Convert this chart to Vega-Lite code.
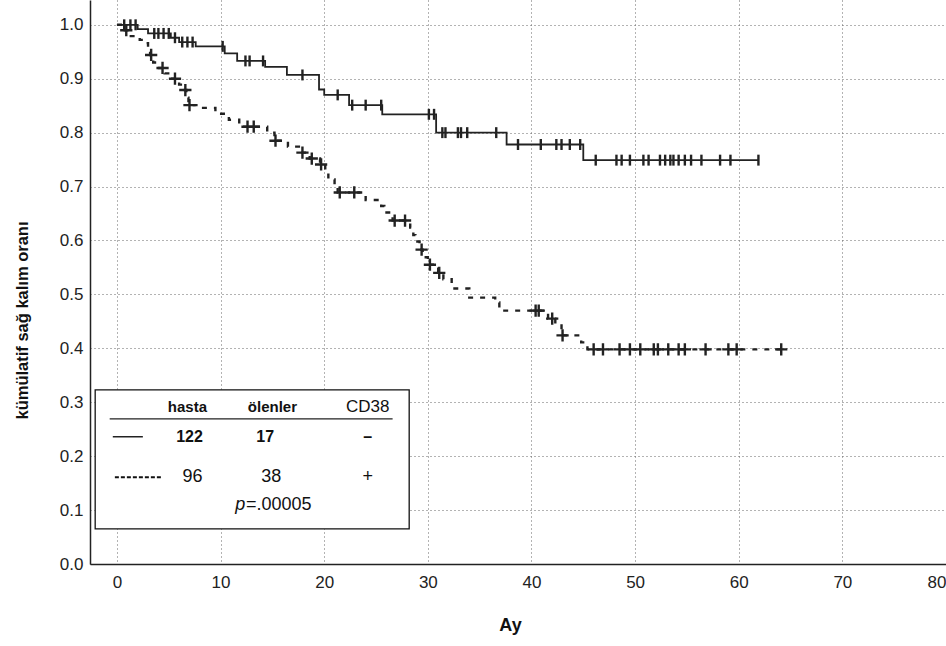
{
  "$schema": "https://vega.github.io/schema/vega-lite/v6.json",
  "width": 856,
  "height": 564,
  "autosize": {"type": "none"},
  "padding": {"left": 90, "top": 0, "right": 0, "bottom": 82},
  "background": "white",
  "config": {"view": {"stroke": null}, "font": "Liberation Sans"},
  "datasets": {
    "neg": [
      {"t": 0, "s": 1.0}, {"t": 2.0, "s": 0.992}, {"t": 3.0, "s": 0.984}, {"t": 5.2, "s": 0.976},
      {"t": 6.0, "s": 0.968}, {"t": 7.6, "s": 0.96}, {"t": 10.4, "s": 0.947}, {"t": 11.6, "s": 0.933},
      {"t": 14.3, "s": 0.922}, {"t": 16.4, "s": 0.907}, {"t": 19.5, "s": 0.88}, {"t": 20.0, "s": 0.87},
      {"t": 22.4, "s": 0.851}, {"t": 25.6, "s": 0.834}, {"t": 30.8, "s": 0.8}, {"t": 37.6, "s": 0.778},
      {"t": 45.0, "s": 0.749}, {"t": 61.9, "s": 0.749}
    ],
    "pos": [
      {"t": 0, "s": 1.0}, {"t": 0.6, "s": 0.99}, {"t": 1.0, "s": 0.979}, {"t": 2.2, "s": 0.972},
      {"t": 2.8, "s": 0.966}, {"t": 3.0, "s": 0.955}, {"t": 3.2, "s": 0.944}, {"t": 3.5, "s": 0.93},
      {"t": 3.8, "s": 0.92}, {"t": 4.6, "s": 0.91}, {"t": 5.2, "s": 0.9}, {"t": 6.0, "s": 0.889},
      {"t": 6.4, "s": 0.879}, {"t": 6.7, "s": 0.865}, {"t": 6.9, "s": 0.851}, {"t": 8.0, "s": 0.846},
      {"t": 9.5, "s": 0.835}, {"t": 10.8, "s": 0.824}, {"t": 11.8, "s": 0.811}, {"t": 14.5, "s": 0.8},
      {"t": 15.2, "s": 0.785}, {"t": 16.5, "s": 0.774}, {"t": 17.7, "s": 0.763}, {"t": 18.6, "s": 0.752},
      {"t": 19.6, "s": 0.741}, {"t": 20.1, "s": 0.73}, {"t": 20.4, "s": 0.713}, {"t": 21.0, "s": 0.7},
      {"t": 21.3, "s": 0.689}, {"t": 24.0, "s": 0.675}, {"t": 25.5, "s": 0.664}, {"t": 25.8, "s": 0.652},
      {"t": 26.6, "s": 0.637}, {"t": 28.3, "s": 0.624}, {"t": 28.6, "s": 0.61}, {"t": 28.8, "s": 0.598},
      {"t": 29.2, "s": 0.583}, {"t": 29.5, "s": 0.569}, {"t": 30.0, "s": 0.555}, {"t": 31.0, "s": 0.54},
      {"t": 31.5, "s": 0.528}, {"t": 32.3, "s": 0.511}, {"t": 34.0, "s": 0.494}, {"t": 36.5, "s": 0.485},
      {"t": 36.9, "s": 0.47}, {"t": 41.6, "s": 0.455}, {"t": 42.3, "s": 0.446}, {"t": 42.9, "s": 0.424},
      {"t": 44.8, "s": 0.411}, {"t": 45.4, "s": 0.398}, {"t": 64.1, "s": 0.398}
    ],
    "negCens": [
      {"t": 0.7, "s": 1.0}, {"t": 1.3, "s": 1.0}, {"t": 1.8, "s": 1.0}, {"t": 3.6, "s": 0.984},
      {"t": 4.0, "s": 0.984}, {"t": 4.5, "s": 0.984}, {"t": 5.0, "s": 0.984}, {"t": 5.6, "s": 0.976},
      {"t": 6.3, "s": 0.968}, {"t": 6.8, "s": 0.968}, {"t": 7.3, "s": 0.968}, {"t": 10.2, "s": 0.96},
      {"t": 12.4, "s": 0.933}, {"t": 12.8, "s": 0.933}, {"t": 14.1, "s": 0.933}, {"t": 17.9, "s": 0.907},
      {"t": 21.3, "s": 0.87}, {"t": 22.7, "s": 0.851}, {"t": 24.0, "s": 0.851}, {"t": 25.5, "s": 0.851},
      {"t": 30.1, "s": 0.834}, {"t": 30.6, "s": 0.834}, {"t": 31.4, "s": 0.8}, {"t": 31.7, "s": 0.8},
      {"t": 32.9, "s": 0.8}, {"t": 33.2, "s": 0.8}, {"t": 33.8, "s": 0.8}, {"t": 36.6, "s": 0.8},
      {"t": 38.7, "s": 0.778}, {"t": 40.9, "s": 0.778}, {"t": 42.4, "s": 0.778}, {"t": 42.9, "s": 0.778},
      {"t": 43.7, "s": 0.778}, {"t": 44.7, "s": 0.778}, {"t": 46.2, "s": 0.749}, {"t": 48.2, "s": 0.749},
      {"t": 48.7, "s": 0.749}, {"t": 49.5, "s": 0.749}, {"t": 50.8, "s": 0.749}, {"t": 51.3, "s": 0.749},
      {"t": 52.4, "s": 0.749}, {"t": 52.9, "s": 0.749}, {"t": 53.4, "s": 0.749}, {"t": 53.7, "s": 0.749},
      {"t": 54.2, "s": 0.749}, {"t": 54.8, "s": 0.749}, {"t": 55.4, "s": 0.749}, {"t": 56.4, "s": 0.749},
      {"t": 58.2, "s": 0.749}, {"t": 59.2, "s": 0.749}, {"t": 61.9, "s": 0.749}
    ],
    "posCens": [
      {"t": 0.9, "s": 0.99}, {"t": 3.3, "s": 0.944}, {"t": 4.4, "s": 0.92}, {"t": 5.6, "s": 0.9},
      {"t": 6.6, "s": 0.879}, {"t": 7.0, "s": 0.851}, {"t": 12.6, "s": 0.811}, {"t": 13.2, "s": 0.811},
      {"t": 15.3, "s": 0.785}, {"t": 17.9, "s": 0.763}, {"t": 18.8, "s": 0.752}, {"t": 19.7, "s": 0.741},
      {"t": 21.5, "s": 0.689}, {"t": 22.9, "s": 0.689}, {"t": 26.8, "s": 0.637}, {"t": 27.8, "s": 0.637},
      {"t": 29.4, "s": 0.583}, {"t": 30.2, "s": 0.555}, {"t": 31.1, "s": 0.54}, {"t": 40.4, "s": 0.47},
      {"t": 40.7, "s": 0.47}, {"t": 42.0, "s": 0.455}, {"t": 43.0, "s": 0.424}, {"t": 46.0, "s": 0.398},
      {"t": 46.9, "s": 0.398}, {"t": 48.5, "s": 0.398}, {"t": 49.5, "s": 0.398}, {"t": 50.5, "s": 0.398},
      {"t": 51.8, "s": 0.398}, {"t": 52.2, "s": 0.398}, {"t": 53.2, "s": 0.398}, {"t": 54.2, "s": 0.398},
      {"t": 54.8, "s": 0.398}, {"t": 56.8, "s": 0.398}, {"t": 59.0, "s": 0.398}, {"t": 59.8, "s": 0.398},
      {"t": 64.1, "s": 0.398}
    ],
    "box": [{"t": -2.1, "t2": 28.2, "s": 0.323, "s2": 0.065}],
    "underline": [{"t": -0.7, "t2": 26.6, "s": 0.269}],
    "legSolid": [{"t": -0.4, "t2": 2.5, "s": 0.236}],
    "legDash": [{"t": -0.2, "t2": 4.4, "s": 0.161}],
    "hdrBold": [{"t": 6.8, "s": 0.291, "label": "hasta"}, {"t": 15.0, "s": 0.291, "label": "ölenler"}],
    "hdrReg": [{"t": 24.2, "s": 0.291, "label": "CD38"}],
    "rowBold": [{"t": 7.0, "s": 0.236, "label": "122"}, {"t": 14.3, "s": 0.236, "label": "17"}, {"t": 24.2, "s": 0.236, "label": "–"}],
    "rowReg": [{"t": 7.3, "s": 0.161, "label": "96"}, {"t": 14.9, "s": 0.161, "label": "38"}, {"t": 24.2, "s": 0.161, "label": "+"}],
    "pItal": [{"t": 11.9, "s": 0.109, "label": "p"}],
    "pRest": [{"t": 12.45, "s": 0.109, "label": "=.00005"}]
  },
  "encoding": {
    "x": {
      "field": "t", "type": "quantitative",
      "scale": {"domain": [-2.6, 80], "nice": false, "zero": false},
      "axis": {
        "values": [0, 10, 20, 30, 40, 50, 60, 70, 80], "title": "Ay",
        "titleFontSize": 18, "titleFontWeight": "bold", "titleColor": "#111", "titlePadding": 26, "titleX": 420,
        "labelFontSize": 17, "labelColor": "#222", "labelPadding": 10, "ticks": false, "labelFlush": true,
        "grid": true, "gridDash": [1, 3], "gridColor": "#666", "gridWidth": 1,
        "domainColor": "#222", "domainWidth": 1.5
      }
    },
    "y": {
      "field": "s", "type": "quantitative",
      "scale": {"domain": [0, 1.046], "nice": false, "zero": false},
      "axis": {
        "values": [0, 0.1, 0.2, 0.3, 0.4, 0.5, 0.6, 0.7, 0.8, 0.9, 1.0], "format": ".1f",
        "title": "kümülatif sağ kalım oranı",
        "titleFontSize": 16.5, "titleFontWeight": "bold", "titleColor": "#111", "titlePadding": 29, "titleY": 320,
        "labelFontSize": 17, "labelColor": "#222", "labelPadding": 7, "ticks": false,
        "grid": true, "gridDash": [1, 3], "gridColor": "#666", "gridWidth": 1,
        "domainColor": "#222", "domainWidth": 1.5
      }
    }
  },
  "layer": [
    {"data": {"name": "neg"}, "mark": {"type": "line", "interpolate": "step-after", "stroke": "#222", "strokeWidth": 1.8}},
    {"data": {"name": "pos"}, "mark": {"type": "line", "interpolate": "step-after", "stroke": "#222", "strokeWidth": 2.4, "strokeDash": [5, 7]}},
    {"data": {"name": "negCens"}, "mark": {"type": "point", "shape": "M0,-1L0,1", "size": 120, "filled": false, "stroke": "#222", "strokeWidth": 2.4, "opacity": 1}},
    {"data": {"name": "posCens"}, "mark": {"type": "point", "shape": "M-1,0L1,0M0,-1L0,1", "size": 150, "filled": false, "stroke": "#222", "strokeWidth": 2.4, "opacity": 1}},
    {"data": {"name": "box"}, "mark": {"type": "rect", "fill": "white", "stroke": "#111", "strokeWidth": 1.3},
      "encoding": {"x2": {"field": "t2"}, "y2": {"field": "s2"}}},
    {"data": {"name": "underline"}, "mark": {"type": "rule", "stroke": "#222", "strokeWidth": 1.3},
      "encoding": {"x2": {"field": "t2"}}},
    {"data": {"name": "legSolid"}, "mark": {"type": "rule", "stroke": "#222", "strokeWidth": 1.5},
      "encoding": {"x2": {"field": "t2"}}},
    {"data": {"name": "legDash"}, "mark": {"type": "rule", "stroke": "#111", "strokeWidth": 2, "strokeDash": [4, 2]},
      "encoding": {"x2": {"field": "t2"}}},
    {"data": {"name": "hdrBold"}, "mark": {"type": "text", "fontSize": 15, "fontWeight": "bold", "color": "#111"},
      "encoding": {"text": {"field": "label"}}},
    {"data": {"name": "hdrReg"}, "mark": {"type": "text", "fontSize": 17, "color": "#111"},
      "encoding": {"text": {"field": "label"}}},
    {"data": {"name": "rowBold"}, "mark": {"type": "text", "fontSize": 16, "fontWeight": "bold", "color": "#111"},
      "encoding": {"text": {"field": "label"}}},
    {"data": {"name": "rowReg"}, "mark": {"type": "text", "fontSize": 18, "color": "#111"},
      "encoding": {"text": {"field": "label"}}},
    {"data": {"name": "pItal"}, "mark": {"type": "text", "fontSize": 18, "fontStyle": "italic", "color": "#111"},
      "encoding": {"text": {"field": "label"}}},
    {"data": {"name": "pRest"}, "mark": {"type": "text", "fontSize": 18, "align": "left", "color": "#111"},
      "encoding": {"text": {"field": "label"}}}
  ]
}
